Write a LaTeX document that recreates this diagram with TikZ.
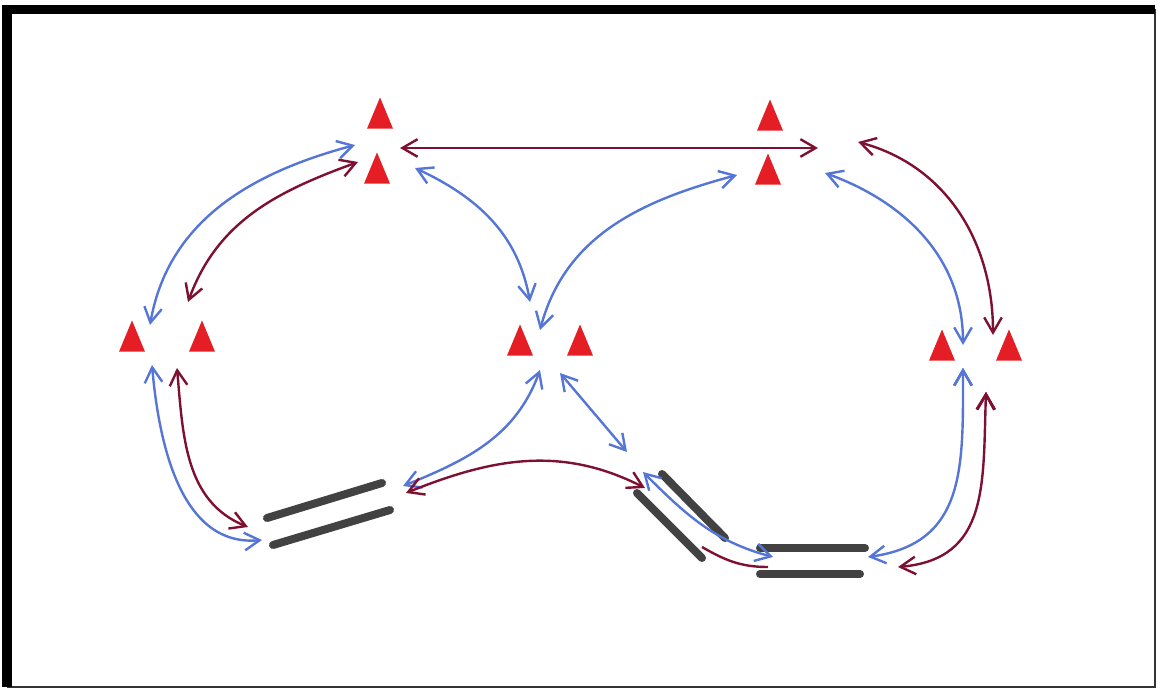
\documentclass[tikz,border=0pt]{standalone}
\usepackage{tikz}
\usetikzlibrary{arrows.meta}
\usetikzlibrary{shapes}
\definecolor{coneRed}{RGB}{228,30,36}
\definecolor{linkBlue}{RGB}{86,118,214}
\definecolor{linkWine}{RGB}{126,16,50}
\definecolor{barGray}{RGB}{66,66,66}
\tikzstyle{cone}=[isosceles triangle, isosceles triangle stretches, shape border rotate=90, fill=coneRed, inner sep=0pt, minimum width=0.65cm, minimum height=0.78cm]
\tikzstyle{bluelink}=[<->, draw=linkBlue, line width=0.06cm]
\tikzstyle{winelink}=[<->, draw=linkWine, line width=0.06cm]
\tikzstyle{bar}=[draw=barGray, line width=0.2cm, line cap=round]

\begin{document}
\begin{tikzpicture}[>={Straight Barb[length=3.8mm,width=4.4mm]}, x=0.025cm, y=0.025cm]
	\useasboundingbox (0,0) rectangle (1158,-689);
	% frame
	\coordinate (fNW) at (7,-9.5);
	\coordinate (fNE) at (1155,-9.5);
	\coordinate (fSW) at (7,-687);
	\coordinate (fSE) at (1155,-687);
	\draw[line width=0.05cm, black!80] (fNE) -- (fSE) -- (fSW);
	\draw[line width=0.23cm] (fSW) -- (fNW) -- (fNE);
	% cones
	\node (T1) at (380,-120) [cone] {};
	\node (T2) at (377,-175) [cone] {};
	\node (U1) at (770,-122) [cone] {};
	\node (U2) at (768,-176) [cone] {};
	\node (L1) at (132,-343) [cone] {};
	\node (L2) at (202,-343) [cone] {};
	\node (M1) at (520,-347) [cone] {};
	\node (M2) at (580,-347) [cone] {};
	\node (R1) at (942,-352) [cone] {};
	\node (R2) at (1009,-352) [cone] {};
	% goals
	\coordinate (A1w) at (267,-518); \coordinate (A1e) at (382,-483);
	\coordinate (A2w) at (273,-545); \coordinate (A2e) at (390,-510);
	\coordinate (B1n) at (662,-474); \coordinate (B1s) at (725,-538);
	\coordinate (B2n) at (637,-493); \coordinate (B2s) at (702,-558);
	\coordinate (C1w) at (760,-548); \coordinate (C1e) at (865,-548);
	\coordinate (C2w) at (760,-574); \coordinate (C2e) at (860,-574);
	\draw[bar] (A1w) -- (A1e);
	\draw[bar] (A2w) -- (A2e);
	\draw[bar] (B1n) -- (B1s);
	\draw[bar] (B2n) -- (B2s);
	\draw[bar] (C1w) -- (C1e);
	\draw[bar] (C2w) -- (C2e);
	% ports
	\coordinate (pLnw) at (150,-325); \coordinate (pLne) at (188,-302);
	\coordinate (pLsw) at (152,-365); \coordinate (pLse) at (177,-368);
	\coordinate (pTw1) at (355,-145); \coordinate (pTw2) at (358,-162);
	\coordinate (pTe1) at (400,-148); \coordinate (pTe2) at (415,-168);
	\coordinate (pUw) at (737,-175);
	\coordinate (pUe1) at (818,-148); \coordinate (pUe2) at (858,-142); \coordinate (pUe3) at (825,-173);
	\coordinate (pMn1) at (530,-302); \coordinate (pMn2) at (540,-330);
	\coordinate (pMs1) at (540,-370); \coordinate (pMs2) at (560,-373);
	\coordinate (pRn1) at (963,-345); \coordinate (pRn2) at (993,-335);
	\coordinate (pRs1) at (963,-368); \coordinate (pRs2) at (986,-392);
	\coordinate (pAw1) at (262,-540); \coordinate (pAw2) at (248,-527);
	\coordinate (pAe1) at (403,-486); \coordinate (pAe2) at (406,-493);
	\coordinate (pBn1) at (643,-472); \coordinate (pBn2) at (645,-488); \coordinate (pBn3) at (627,-452);
	\coordinate (pBs) at (702,-547);
	\coordinate (pCw1) at (773,-557); \coordinate (pCw2) at (768,-567);
	\coordinate (pCe1) at (868,-557); \coordinate (pCe2) at (898,-567);
	% runs
	\path[bluelink]
		(pLnw) edge[out=80, in=195] (pTw1)
		(pTe2) edge[out=-25, in=100] (pMn1)
		(pMn2) edge[out=75, in=195] (pUw)
		(pUe3) edge[out=-20, in=90] (pRn1)
		(pLsw) edge[out=-85, in=185] (pAw1)
		(pMs1) edge[out=-110, in=22] (pAe1)
		(pMs2) edge (pBn3)
		(pBn1) edge[out=-45, in=165] (pCw1)
		(pRs1) edge[out=-90, in=8, looseness=1.2] (pCe1);
	\path[winelink]
		(pLne) edge[out=70, in=200] (pTw2)
		(pTe1) edge (pUe1)
		(pUe2) edge[out=-15, in=90] (pRn2)
		(pLse) edge[out=-85, in=158] (pAw2)
		(pAe2) edge[out=22, in=153] (pBn2)
		(pBs) edge[-, out=-30, in=180] (pCw2)
		(pRs2) edge[out=-92, in=5, looseness=1.2] (pCe2);
\end{tikzpicture}
\end{document}
